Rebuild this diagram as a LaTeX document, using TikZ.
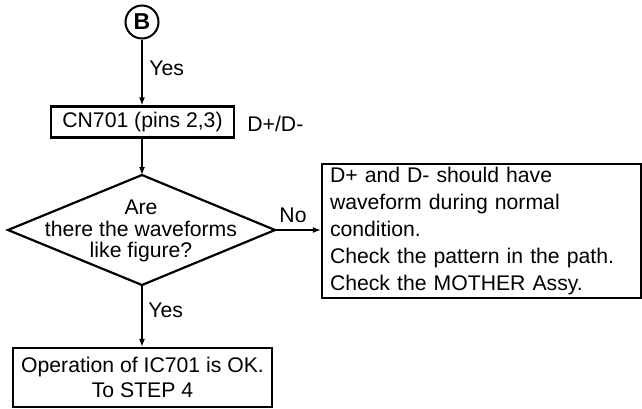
\documentclass[tikz,border=0pt]{standalone}
\usepackage{fontspec}
\setmainfont{Liberation Sans}
\usetikzlibrary{arrows.meta}
\begin{document}
\begin{tikzpicture}[x=0.5pt,y=-0.5pt,
  box/.style={draw, line width=1.2pt, inner sep=0pt},
  conn/.style={line width=0.6pt, -{Latex[length=4pt,width=3pt]}},
  lbl/.style={font=\fontsize{10.6}{12}\selectfont, inner sep=0pt},
]
\useasboundingbox (0,0) rectangle (642,408);
\node[circle, draw, line width=1pt, minimum size=16.5pt, inner sep=0pt,
      font=\bfseries\fontsize{11.5}{12}\selectfont] (B) at (142,22) {B};
\node[box, lbl, minimum width=91.5pt, minimum height=15.5pt] (cn) at (142.5,122) {CN701 (pins 2,3)};
\node[lbl, anchor=west] (dd) at (247,124) {D+/D-};
\coordinate (dt) at (142,175);
\coordinate (dl) at (8,230);
\coordinate (dr) at (275,230);
\coordinate (db) at (142,285);
\draw[line width=1.1pt] (dt) -- (dr) -- (db) -- (dl) -- cycle;
\node[lbl, align=center, font=\fontsize{10.6}{10.8}\selectfont] (dq) at (141,231)
  {Are\\there the waveforms\\like figure?};
\node[box, minimum width=159.5pt, minimum height=67pt, inner xsep=4pt, inner ysep=0pt,
      text width=151.5pt, align=left, font=\fontsize{10.6}{13.4}\selectfont] (rb) at (481.5,231)
  {D+ and D- should have\\waveform during normal\\condition.\\Check the pattern in the path.\\Check the MOTHER Assy.};
\node[box, minimum width=129.5pt, minimum height=29.5pt, align=center,
      font=\fontsize{10.6}{12.5}\selectfont] (bb) at (142.5,377.5)
  {Operation of IC701 is OK.\\To STEP 4};
\node[lbl, anchor=west] (y1) at (149,68) {Yes};
\node[lbl, anchor=west] (y2) at (148,310) {Yes};
\node[lbl, anchor=base] (no) at (293,222.5) {No};
\draw[conn] (B.south) -- (B.south |- cn.north);
\draw[conn] (dt |- cn.south) -- (dt);
\draw[conn] (dr) -- (dr -| rb.west);
\draw[conn] (db) -- (db |- bb.north);
\end{tikzpicture}
\end{document}
